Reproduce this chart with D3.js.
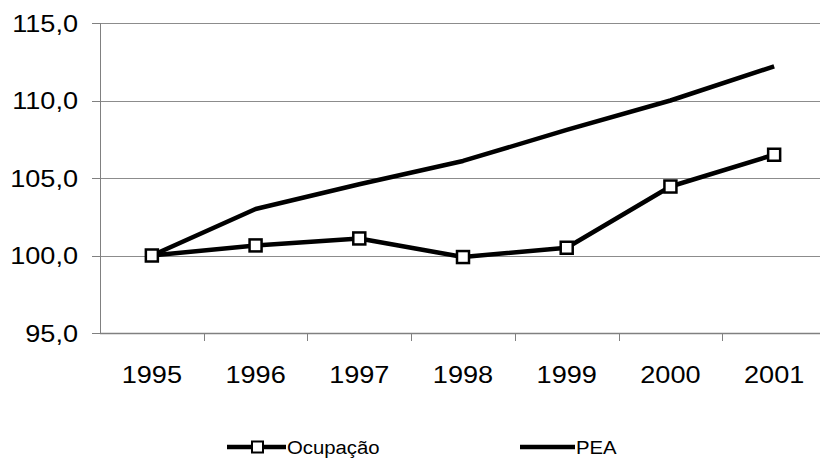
<!DOCTYPE html>
<html>
<head>
<meta charset="utf-8">
<script src="https://cdn.jsdelivr.net/npm/d3@7"></script>
<style>
  html, body { margin: 0; padding: 0; background: #fff; overflow: hidden; }
  svg { display: block; font-family: "Liberation Sans", Arial, sans-serif; }
</style>
</head>
<body>
<div id="chart"></div>
<script>
/* --------------------------------------------------------------
DADOS
-------------------------------------------------------------- */

const YEARS = ["1995", "1996", "1997", "1998", "1999", "2000", "2001"];
const OCUPACAO = [100.0, 100.65, 101.1, 99.9, 100.5, 104.45, 106.5];
const PEA = [100.0, 103.0, 104.6, 106.1, 108.1, 110.0, 112.2];
const Y_TICKS = [95, 100, 105, 110, 115];

/* --------------------------------------------------------------
LAYOUT
-------------------------------------------------------------- */

const width = 820, height = 461;
const plot = { left: 100, right: 826, top: 23, bottom: 333 };
const STRETCH = 1.13;

const ptLocale = d3.formatLocale({ decimal: ",", thousands: ".", grouping: [3], currency: ["R$", ""] });
const fmt = ptLocale.format(".1f");

const svg = d3.select("#chart").append("svg")
    .attr("width", width)
    .attr("height", height);

const x = d3.scaleBand()
    .domain(YEARS)
    .range([plot.left, plot.right])
    .padding(0);

const y = d3.scaleLinear()
    .domain([95, 115])
    .range([plot.bottom, plot.top]);

/* --------------------------------------------------------------
GRADE + EIXOS
-------------------------------------------------------------- */

svg.append("g")
    .selectAll("line")
    .data(Y_TICKS.filter(d => d !== 95))
    .enter()
    .append("line")
    .attr("x1", plot.left)
    .attr("x2", plot.right)
    .attr("y1", d => Math.round(y(d)) + 0.5)
    .attr("y2", d => Math.round(y(d)) + 0.5)
    .attr("stroke", "#8c8c8c")
    .attr("stroke-width", 1);

// eixo y
const yAxis = svg.append("g");
yAxis.append("line")
    .attr("x1", plot.left + 0.5).attr("x2", plot.left + 0.5)
    .attr("y1", plot.top).attr("y2", plot.bottom)
    .attr("stroke", "#808080").attr("stroke-width", 1);

yAxis.selectAll(".tick")
    .data(Y_TICKS)
    .enter()
    .append("line")
    .attr("x1", plot.left - 8).attr("x2", plot.left)
    .attr("y1", d => Math.round(y(d)) + 0.5)
    .attr("y2", d => Math.round(y(d)) + 0.5)
    .attr("stroke", "#808080");

yAxis.selectAll("text")
    .data(Y_TICKS)
    .enter()
    .append("text")
    .attr("transform", d => `translate(${plot.left - 22},${y(d) + 8.5}) scale(${STRETCH},1)`)
    .attr("text-anchor", "end")
    .attr("font-size", 24)
    .attr("fill", "#000")
    .text(d => fmt(d));

// eixo x
const xAxis = svg.append("g");
xAxis.append("line")
    .attr("x1", plot.left).attr("x2", plot.right)
    .attr("y1", plot.bottom + 0.5).attr("y2", plot.bottom + 0.5)
    .attr("stroke", "#808080").attr("stroke-width", 1.5);

xAxis.selectAll(".tick")
    .data(YEARS.slice(1))
    .enter()
    .append("line")
    .attr("x1", d => Math.round(x(d)) + 0.5)
    .attr("x2", d => Math.round(x(d)) + 0.5)
    .attr("y1", plot.bottom)
    .attr("y2", plot.bottom + 8)
    .attr("stroke", "#808080");

xAxis.selectAll("text")
    .data(YEARS)
    .enter()
    .append("text")
    .attr("transform", d => `translate(${x(d) + x.bandwidth() / 2},383) scale(${STRETCH},1)`)
    .attr("text-anchor", "middle")
    .attr("font-size", 24)
    .attr("fill", "#000")
    .text(d => d);

/* --------------------------------------------------------------
SÉRIES
-------------------------------------------------------------- */

const cx = (d, i) => x(YEARS[i]) + x.bandwidth() / 2;

const line = d3.line()
    .x(cx)
    .y(d => y(d));

svg.append("path")
    .datum(PEA)
    .attr("d", line)
    .attr("fill", "none")
    .attr("stroke", "#000")
    .attr("stroke-width", 4.5)
    .attr("stroke-linejoin", "round");

svg.append("path")
    .datum(OCUPACAO)
    .attr("d", line)
    .attr("fill", "none")
    .attr("stroke", "#000")
    .attr("stroke-width", 4.5)
    .attr("stroke-linejoin", "round");

const MK = 12;
svg.append("g")
    .selectAll("rect")
    .data(OCUPACAO)
    .enter()
    .append("rect")
    .attr("x", (d, i) => cx(d, i) - MK / 2)
    .attr("y", d => y(d) - MK / 2)
    .attr("width", MK)
    .attr("height", MK)
    .attr("fill", "#fff")
    .attr("stroke", "#000")
    .attr("stroke-width", 2.5);

/* --------------------------------------------------------------
LEGENDA
-------------------------------------------------------------- */

const legend = svg.append("g");
const LEG_Y = 447;

legend.append("line")
    .attr("x1", 227).attr("x2", 286)
    .attr("y1", LEG_Y).attr("y2", LEG_Y)
    .attr("stroke", "#000").attr("stroke-width", 4.5);
legend.append("rect")
    .attr("x", 252).attr("y", LEG_Y - 5.5)
    .attr("width", 11).attr("height", 11)
    .attr("fill", "#fff").attr("stroke", "#000").attr("stroke-width", 2);
legend.append("text")
    .attr("transform", `translate(287,${LEG_Y + 7}) scale(${STRETCH},1)`)
    .attr("font-size", 18)
    .text("Ocupação");

legend.append("line")
    .attr("x1", 520).attr("x2", 575)
    .attr("y1", LEG_Y).attr("y2", LEG_Y)
    .attr("stroke", "#000").attr("stroke-width", 4.5);
legend.append("text")
    .attr("transform", `translate(576,${LEG_Y + 7}) scale(${STRETCH},1)`)
    .attr("font-size", 18)
    .text("PEA");
</script>
</body>
</html>
